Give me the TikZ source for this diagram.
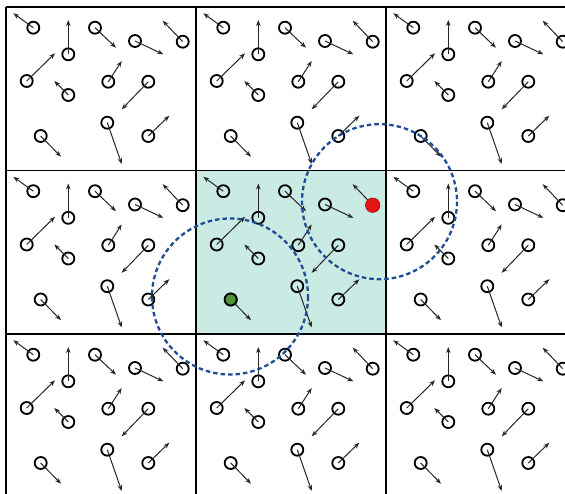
\documentclass[tikz,border=0pt]{standalone}
\usetikzlibrary{arrows.meta}
\definecolor{cellcyan}{RGB}{202,234,228}
\definecolor{cutblue}{RGB}{32,78,150}
\definecolor{pred}{RGB}{228,22,22}
\definecolor{pgreen}{RGB}{72,152,52}
\begin{document}
\begin{tikzpicture}[x=1pt,y=-1pt,
  gridline/.style={line width=1.7pt,black},
  particle/.style={circle,draw=black,line width=1.8pt,minimum size=12pt,inner sep=0pt},
  vel/.style={line width=1pt,black!85,-{Stealth[length=6pt,width=4.5pt]}},
  redparticle/.style={circle,fill=pred,draw=pred!75!black,line width=0.6pt,minimum size=14.5pt,inner sep=0pt},
  greenparticle/.style={circle,fill=pgreen,draw=black,line width=1.8pt,minimum size=12pt,inner sep=0pt},
  cutoff/.style={cutblue,line width=2.3pt,dash pattern=on 4.5pt off 3pt}]
\useasboundingbox (0,0) rectangle (565,493);
\clip (0,0) rectangle (565,493);
\fill[white] (0,0) rectangle (565,493);
% central (shaded) cell
\fill[cellcyan] (196,170.5) rectangle (386,334);
% grid
\foreach \gx in {6,196,386,576} \draw[gridline] (\gx,7) -- (\gx,500);
\foreach \gy in {7,170.5,334,497.5} \draw[gridline] (6,\gy) -- (580,\gy);
% particles in every periodic image
\foreach \i in {0,1,2}{
  \foreach \j in {0,1,2}{
    \foreach \cx/\cy/\tx/\ty [count=\k] in {
      33.3/27.7/13.3/13.3,
      68.3/54.3/68.3/20,
      95/27.7/116/47.7,
      135/41/163.3/54.3,
      182.7/41.7/162.7/20.7,
      26.7/81/55/53.3,
      68.3/95/54.3/81,
      108.3/81.7/121.7/61,
      148.3/81.7/121.7/109.3,
      107.3/122.7/121.7/164,
      40.7/136/61/156.7,
      148.3/136/169.3/115.7}{
      \node[particle] (p-\i-\j-\k) at ({\cx+190*\i},{\cy+163.5*\j}) {};
      \coordinate (t-\i-\j-\k) at ({\tx+190*\i},{\ty+163.5*\j});
      \draw[vel] (p-\i-\j-\k.center) -- (t-\i-\j-\k);
    }
  }
}
% highlighted particles of the central cell
\node[redparticle] (red) at (p-1-1-5.center) {};
\node[greenparticle] (green) at (p-1-1-11.center) {};
% cut-off spheres
\coordinate (gc) at (230,296.5);
\coordinate (rc) at (379.5,201.7);
\draw[cutoff] (gc) circle[radius=78];
\draw[cutoff] (rc) circle[radius=77.5];
\end{tikzpicture}
\end{document}
